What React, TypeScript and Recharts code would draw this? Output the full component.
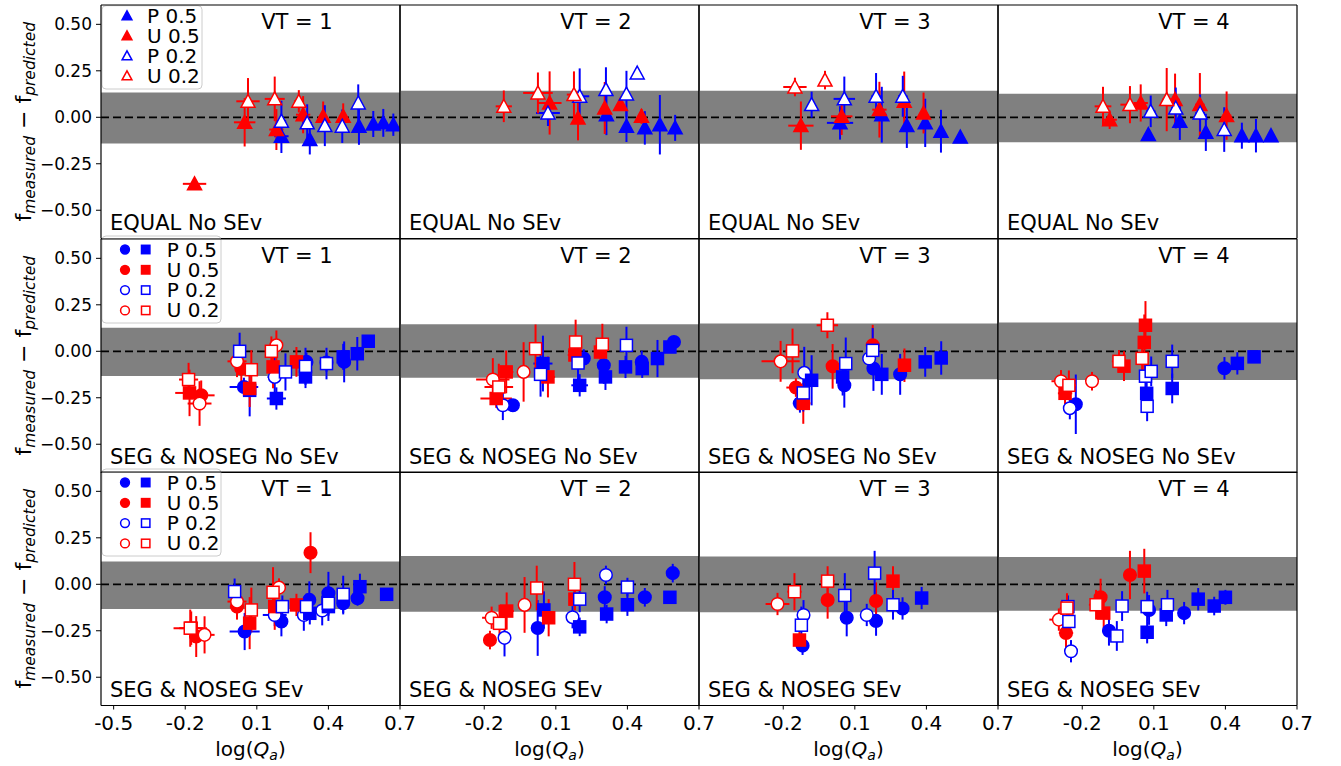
import React from "react";
import {
  ScatterChart,
  Scatter,
  XAxis,
  YAxis,
  ErrorBar,
  ReferenceArea,
  ReferenceLine,
} from "recharts";

// [series code, log(Qa), f_measured - f_predicted, x error, y error]
// series code: P5 / U5 / P2 / U2 followed by marker shape (t = triangle, c = circle, s = square)
type Pt = [string, number, number, number, number];

const EQUAL_VT1: Pt[] = [
  ["U5t", -0.161, -0.358, 0.049, 0.01],
  ["U5t", 0.049, -0.027, 0.045, 0.13],
  ["U5t", 0.182, -0.066, 0.03, 0.11],
  ["U5t", 0.294, 0.014, 0.03, 0.1],
  ["U5t", 0.378, 0.005, 0.01, 0.08],
  ["U5t", 0.462, 0.005, 0.01, 0.07],
  ["U2t", 0.063, 0.086, 0.049, 0.125],
  ["U2t", 0.175, 0.099, 0.042, 0.12],
  ["U2t", 0.276, 0.086, 0.02, 0.06],
  ["P5t", 0.203, -0.102, 0.03, 0.09],
  ["P5t", 0.322, -0.12, 0.01, 0.08],
  ["P5t", 0.528, -0.048, 0.01, 0.1],
  ["P5t", 0.588, -0.036, 0.01, 0.07],
  ["P5t", 0.63, -0.03, 0.01, 0.075],
  ["P5t", 0.672, -0.04, 0.01, 0.06],
  ["P2t", 0.203, -0.021, 0.02, 0.11],
  ["P2t", 0.311, -0.03, 0.02, 0.1],
  ["P2t", 0.385, -0.045, 0.01, 0.11],
  ["P2t", 0.458, -0.048, 0.01, 0.09],
  ["P2t", 0.525, 0.077, 0.01, 0.1],
];

const EQUAL_VT2: Pt[] = [
  ["U2t", -0.118, 0.059, 0.034, 0.085],
  ["U2t", 0.025, 0.131, 0.062, 0.11],
  ["U5t", 0.074, 0.077, 0.05, 0.17],
  ["P2t", 0.067, 0.023, 0.05, 0.07],
  ["U2t", 0.176, 0.122, 0.03, 0.125],
  ["P2t", 0.2, 0.113, 0.04, 0.15],
  ["U5t", 0.193, -0.004, 0.02, 0.12],
  ["P5t", 0.312, 0.014, 0.01, 0.11],
  ["U5t", 0.305, 0.05, 0.01, 0.14],
  ["P2t", 0.31, 0.149, 0.01, 0.12],
  ["U5t", 0.371, 0.068, 0.01, 0.03],
  ["P2t", 0.396, 0.125, 0.01, 0.125],
  ["P5t", 0.396, -0.048, 0.01, 0.085],
  ["P2t", 0.441, 0.238, 0.01, 0.01],
  ["U5t", 0.459, 0.005, 0.01, 0.04],
  ["P5t", 0.473, -0.057, 0.01, 0.09],
  ["P5t", 0.536, -0.04, 0.01, 0.16],
  ["P5t", 0.6, -0.057, 0.01, 0.07],
];

const EQUAL_VT3: Pt[] = [
  ["U2t", -0.151, 0.163, 0.049, 0.05],
  ["U5t", -0.126, -0.045, 0.053, 0.13],
  ["P2t", -0.081, 0.068, 0.01, 0.07],
  ["U2t", -0.025, 0.2, 0.01, 0.05],
  ["P2t", 0.056, 0.099, 0.045, 0.12],
  ["U5t", 0.045, 0.005, 0.045, 0.1],
  ["P5t", 0.038, -0.03, 0.055, 0.09],
  ["P2t", 0.189, 0.113, 0.02, 0.125],
  ["U5t", 0.203, 0.041, 0.03, 0.15],
  ["P5t", 0.213, 0.014, 0.02, 0.15],
  ["P2t", 0.301, 0.113, 0.02, 0.11],
  ["U5t", 0.307, 0.086, 0.02, 0.16],
  ["P5t", 0.318, -0.045, 0.01, 0.12],
  ["U5t", 0.388, 0.023, 0.01, 0.11],
  ["P5t", 0.395, -0.03, 0.01, 0.13],
  ["P5t", 0.461, -0.075, 0.01, 0.115],
  ["P5t", 0.542, -0.106, 0.01, 0.01],
];

const EQUAL_VT4: Pt[] = [
  ["U2t", -0.113, 0.059, 0.035, 0.105],
  ["U5t", -0.085, -0.013, 0.03, 0.05],
  ["U2t", 0.0, 0.068, 0.04, 0.1],
  ["U5t", 0.045, 0.077, 0.03, 0.1],
  ["P2t", 0.087, 0.032, 0.02, 0.085],
  ["P5t", 0.077, -0.093, 0.01, 0.01],
  ["U2t", 0.154, 0.095, 0.02, 0.17],
  ["U5t", 0.189, 0.095, 0.02, 0.14],
  ["P2t", 0.192, 0.05, 0.02, 0.11],
  ["P5t", 0.209, -0.022, 0.01, 0.1],
  ["U5t", 0.293, 0.068, 0.02, 0.17],
  ["P2t", 0.294, 0.023, 0.02, 0.1],
  ["P5t", 0.318, -0.081, 0.01, 0.1],
  ["P2t", 0.395, -0.066, 0.01, 0.12],
  ["U5t", 0.405, 0.009, 0.02, 0.13],
  ["P5t", 0.469, -0.099, 0.01, 0.07],
  ["P5t", 0.528, -0.099, 0.01, 0.09],
  ["P5t", 0.591, -0.099, 0.01, 0.01],
];

const NOSEV_VT1: Pt[] = [
  ["U5s", -0.182, -0.224, 0.06, 0.125],
  ["U2s", -0.186, -0.152, 0.04, 0.09],
  ["U5c", -0.133, -0.237, 0.056, 0.08],
  ["U2c", -0.14, -0.281, 0.05, 0.12],
  ["U2c", 0.017, -0.054, 0.04, 0.085],
  ["U5c", 0.035, -0.093, 0.02, 0.08],
  ["P2s", 0.028, 0.0, 0.02, 0.1],
  ["P5c", 0.046, -0.192, 0.06, 0.05],
  ["P5s", 0.07, -0.21, 0.02, 0.14],
  ["U2s", 0.077, -0.099, 0.02, 0.105],
  ["U5s", 0.07, -0.2, 0.02, 0.1],
  ["U2s", 0.161, 0.0, 0.02, 0.08],
  ["U2c", 0.182, 0.032, 0.02, 0.08],
  ["U5s", 0.168, -0.084, 0.02, 0.115],
  ["P2c", 0.175, -0.138, 0.03, 0.11],
  ["P5s", 0.182, -0.254, 0.04, 0.06],
  ["P2s", 0.22, -0.111, 0.02, 0.1],
  ["U5s", 0.266, -0.057, 0.02, 0.08],
  ["P2s", 0.304, -0.081, 0.02, 0.1],
  ["P5s", 0.304, -0.138, 0.01, 0.06],
  ["P5c", 0.308, -0.057, 0.01, 0.05],
  ["P2s", 0.392, -0.066, 0.02, 0.085],
  ["P5c", 0.392, -0.06, 0.01, 0.05],
  ["P5c", 0.466, -0.057, 0.01, 0.11],
  ["P5s", 0.462, -0.03, 0.01, 0.07],
  ["P5s", 0.521, -0.013, 0.01, 0.09],
  ["P5s", 0.567, 0.054, 0.01, 0.02],
];

const NOSEV_VT2: Pt[] = [
  ["U2c", -0.164, -0.152, 0.07, 0.115],
  ["U5s", -0.15, -0.254, 0.066, 0.05],
  ["U2s", -0.139, -0.192, 0.06, 0.125],
  ["P2c", -0.122, -0.29, 0.02, 0.08],
  ["P5c", -0.08, -0.29, 0.02, 0.03],
  ["U5s", -0.108, -0.111, 0.03, 0.115],
  ["U2c", -0.035, -0.111, 0.02, 0.16],
  ["U2s", 0.015, 0.014, 0.02, 0.13],
  ["P5s", 0.046, -0.066, 0.04, 0.15],
  ["P2s", 0.036, -0.124, 0.02, 0.12],
  ["U5s", 0.067, -0.138, 0.03, 0.11],
  ["U2s", 0.183, 0.05, 0.02, 0.12],
  ["U5s", 0.18, -0.02, 0.03, 0.06],
  ["P5c", 0.217, -0.039, 0.01, 0.05],
  ["P2s", 0.193, -0.063, 0.02, 0.125],
  ["P5s", 0.2, -0.183, 0.035, 0.06],
  ["U2s", 0.295, 0.038, 0.02, 0.11],
  ["U5s", 0.287, -0.004, 0.02, 0.06],
  ["P5c", 0.301, -0.075, 0.01, 0.1],
  ["P5s", 0.308, -0.138, 0.01, 0.07],
  ["P2s", 0.396, 0.032, 0.01, 0.1],
  ["P5s", 0.392, -0.084, 0.01, 0.06],
  ["P5c", 0.46, -0.057, 0.01, 0.06],
  ["P5s", 0.462, -0.093, 0.01, 0.05],
  ["P5s", 0.526, -0.039, 0.01, 0.1],
  ["P5s", 0.578, 0.023, 0.01, 0.03],
  ["P5c", 0.595, 0.05, 0.01, 0.02],
];

const NOSEV_VT3: Pt[] = [
  ["U2c", -0.211, -0.054, 0.08, 0.11],
  ["U2s", -0.161, 0.002, 0.03, 0.12],
  ["U5c", -0.147, -0.195, 0.04, 0.05],
  ["P2c", -0.112, -0.116, 0.02, 0.14],
  ["P5s", -0.081, -0.156, 0.02, 0.135],
  ["P5c", -0.13, -0.28, 0.03, 0.05],
  ["U5s", -0.116, -0.28, 0.03, 0.11],
  ["P2s", -0.116, -0.224, 0.02, 0.1],
  ["U2s", -0.015, 0.14, 0.045, 0.07],
  ["U5c", 0.007, -0.081, 0.02, 0.12],
  ["P2s", 0.062, -0.066, 0.02, 0.14],
  ["P5c", 0.056, -0.183, 0.02, 0.12],
  ["P5s", 0.049, -0.138, 0.02, 0.1],
  ["P2c", 0.16, -0.039, 0.01, 0.05],
  ["U5c", 0.175, 0.032, 0.02, 0.11],
  ["P2s", 0.175, 0.005, 0.02, 0.12],
  ["P5c", 0.178, -0.093, 0.02, 0.12],
  ["P5s", 0.213, -0.124, 0.01, 0.11],
  ["P5c", 0.29, -0.124, 0.01, 0.11],
  ["U5s", 0.308, -0.075, 0.02, 0.09],
  ["P5s", 0.395, -0.057, 0.01, 0.08],
  ["P5s", 0.462, -0.036, 0.01, 0.09],
];

const NOSEV_VT4: Pt[] = [
  ["U2c", -0.289, -0.161, 0.04, 0.06],
  ["U2s", -0.256, -0.183, 0.03, 0.08],
  ["U5s", -0.272, -0.226, 0.03, 0.06],
  ["P2c", -0.252, -0.306, 0.02, 0.06],
  ["P5c", -0.227, -0.285, 0.02, 0.16],
  ["U2c", -0.159, -0.161, 0.02, 0.05],
  ["U2s", -0.046, -0.054, 0.03, 0.06],
  ["U5s", -0.025, -0.08, 0.02, 0.08],
  ["U2s", 0.051, -0.038, 0.02, 0.1],
  ["U5s", 0.06, 0.048, 0.01, 0.15],
  ["U5s", 0.065, 0.14, 0.01, 0.13],
  ["P2s", 0.065, -0.134, 0.01, 0.08],
  ["P2s", 0.072, -0.296, 0.01, 0.08],
  ["P5s", 0.07, -0.226, 0.01, 0.1],
  ["P2s", 0.089, -0.108, 0.02, 0.08],
  ["P2s", 0.177, -0.054, 0.01, 0.09],
  ["P5s", 0.177, -0.2, 0.01, 0.08],
  ["P5c", 0.396, -0.091, 0.01, 0.06],
  ["P5s", 0.45, -0.065, 0.01, 0.06],
  ["P5s", 0.52, -0.03, 0.01, 0.03],
];

const SEV_VT1: Pt[] = [
  ["U2s", -0.179, -0.236, 0.07, 0.1],
  ["U5s", -0.175, -0.236, 0.05, 0.09],
  ["U5c", -0.154, -0.281, 0.03, 0.11],
  ["U2c", -0.119, -0.272, 0.042, 0.1],
  ["U5c", 0.017, -0.12, 0.03, 0.07],
  ["U2c", 0.017, -0.093, 0.04, 0.06],
  ["P2s", 0.007, -0.039, 0.02, 0.07],
  ["P5c", 0.049, -0.254, 0.063, 0.1],
  ["U5s", 0.07, -0.209, 0.02, 0.14],
  ["U2s", 0.077, -0.138, 0.02, 0.12],
  ["U2s", 0.168, -0.043, 0.02, 0.135],
  ["U2c", 0.193, -0.018, 0.02, 0.05],
  ["U5s", 0.175, -0.12, 0.02, 0.125],
  ["P2c", 0.175, -0.165, 0.05, 0.06],
  ["P5c", 0.203, -0.2, 0.02, 0.08],
  ["P2s", 0.207, -0.12, 0.02, 0.06],
  ["U5s", 0.266, -0.111, 0.02, 0.06],
  ["U5c", 0.325, 0.17, 0.01, 0.11],
  ["P5c", 0.32, -0.084, 0.01, 0.1],
  ["P2c", 0.297, -0.165, 0.02, 0.085],
  ["P5s", 0.322, -0.156, 0.01, 0.06],
  ["P2s", 0.308, -0.12, 0.02, 0.07],
  ["P5c", 0.4, -0.048, 0.01, 0.115],
  ["P2c", 0.374, -0.141, 0.01, 0.08],
  ["P5s", 0.4, -0.12, 0.01, 0.05],
  ["P2s", 0.4, -0.102, 0.01, 0.095],
  ["P5c", 0.462, -0.102, 0.01, 0.06],
  ["P2s", 0.462, -0.054, 0.01, 0.1],
  ["P5c", 0.522, -0.075, 0.01, 0.04],
  ["P5s", 0.532, -0.013, 0.01, 0.07],
  ["P5s", 0.644, -0.054, 0.01, 0.02],
];

const SEV_VT2: Pt[] = [
  ["U5c", -0.176, -0.3, 0.02, 0.05],
  ["U2c", -0.169, -0.18, 0.04, 0.06],
  ["U2s", -0.136, -0.21, 0.03, 0.1],
  ["P2c", -0.115, -0.288, 0.02, 0.1],
  ["U5s", -0.106, -0.144, 0.03, 0.1],
  ["U2c", -0.031, -0.111, 0.02, 0.15],
  ["U2s", 0.02, -0.02, 0.02, 0.12],
  ["P5c", 0.024, -0.235, 0.02, 0.15],
  ["P5s", 0.05, -0.138, 0.02, 0.1],
  ["U5s", 0.07, -0.18, 0.02, 0.1],
  ["P2c", 0.17, -0.177, 0.02, 0.06],
  ["U2s", 0.178, 0.0, 0.02, 0.12],
  ["U5s", 0.18, -0.08, 0.02, 0.06],
  ["P5s", 0.2, -0.229, 0.02, 0.05],
  ["P2s", 0.2, -0.08, 0.02, 0.07],
  ["P5c", 0.305, -0.07, 0.01, 0.06],
  ["P2c", 0.31, 0.05, 0.01, 0.05],
  ["P5s", 0.313, -0.16, 0.01, 0.05],
  ["P2s", 0.4, -0.015, 0.01, 0.05],
  ["P5s", 0.4, -0.11, 0.01, 0.06],
  ["P5c", 0.473, -0.07, 0.01, 0.05],
  ["P5c", 0.59, 0.06, 0.01, 0.05],
  ["P5s", 0.578, -0.07, 0.01, 0.03],
];

const SEV_VT3: Pt[] = [
  ["U2c", -0.224, -0.106, 0.05, 0.06],
  ["U2s", -0.153, -0.04, 0.03, 0.1],
  ["U5s", -0.132, -0.3, 0.02, 0.05],
  ["P5c", -0.119, -0.33, 0.02, 0.05],
  ["P2s", -0.124, -0.22, 0.02, 0.1],
  ["P2c", -0.115, -0.165, 0.02, 0.08],
  ["U2s", -0.014, 0.017, 0.03, 0.08],
  ["U5c", -0.014, -0.085, 0.02, 0.1],
  ["P5c", 0.066, -0.18, 0.02, 0.1],
  ["P2s", 0.058, -0.06, 0.02, 0.12],
  ["P2c", 0.15, -0.165, 0.02, 0.06],
  ["P2s", 0.183, 0.06, 0.01, 0.12],
  ["U5c", 0.189, -0.09, 0.02, 0.1],
  ["P5c", 0.189, -0.197, 0.01, 0.08],
  ["U5s", 0.26, 0.017, 0.01, 0.08],
  ["P2s", 0.26, -0.11, 0.01, 0.08],
  ["P5c", 0.3, -0.13, 0.01, 0.06],
  ["P5s", 0.38, -0.074, 0.01, 0.06],
];

const SEV_VT4: Pt[] = [
  ["U2c", -0.298, -0.19, 0.04, 0.06],
  ["U2s", -0.264, -0.128, 0.03, 0.08],
  ["U5c", -0.268, -0.262, 0.03, 0.08],
  ["P2c", -0.247, -0.36, 0.02, 0.06],
  ["P2s", -0.256, -0.2, 0.02, 0.08],
  ["P2s", -0.26, -0.12, 0.02, 0.06],
  ["U2s", -0.142, -0.11, 0.03, 0.08],
  ["U5c", -0.123, -0.07, 0.02, 0.1],
  ["U5s", -0.11, -0.155, 0.02, 0.08],
  ["P5c", -0.088, -0.25, 0.02, 0.08],
  ["P2s", -0.055, -0.278, 0.02, 0.08],
  ["P2s", -0.033, -0.117, 0.02, 0.08],
  ["U5c", 0.0, 0.05, 0.02, 0.13],
  ["U5s", 0.06, 0.071, 0.01, 0.12],
  ["P2s", 0.072, -0.12, 0.01, 0.08],
  ["P5c", 0.08, -0.138, 0.01, 0.08],
  ["P5s", 0.072, -0.258, 0.01, 0.06],
  ["P2s", 0.157, -0.11, 0.01, 0.08],
  ["P5s", 0.152, -0.165, 0.01, 0.06],
  ["P5c", 0.227, -0.155, 0.01, 0.06],
  ["P5s", 0.286, -0.08, 0.01, 0.06],
  ["P5s", 0.353, -0.117, 0.01, 0.05],
  ["P5s", 0.4, -0.07, 0.01, 0.04],
];

// grey band limits [low, high] per VT column
const EQUAL_BANDS = [[-0.141, 0.134], [-0.143, 0.143], [-0.143, 0.143], [-0.134, 0.126]];
const NOSEV_BANDS = [[-0.133, 0.127], [-0.143, 0.145], [-0.15, 0.149], [-0.155, 0.155]];
const SEV_BANDS = [[-0.133, 0.122], [-0.148, 0.152], [-0.15, 0.15], [-0.143, 0.147]];

const ROW_TITLES = ["EQUAL No SEv", "SEG & NOSEG No SEv", "SEG & NOSEG SEv"];
const VT_LABELS = ["VT = 1", "VT = 2", "VT = 3", "VT = 4"];
const GROUPS = [
  { key: "P5", label: "P 0.5", color: "#0000ff", open: false },
  { key: "U5", label: "U 0.5", color: "#ff0000", open: false },
  { key: "P2", label: "P 0.2", color: "#0000ff", open: true },
  { key: "U2", label: "U 0.2", color: "#ff0000", open: true },
];
const X_TICKS_FIRST = [-0.5, -0.2, 0.1, 0.4, 0.7];
const X_TICKS = [-0.2, 0.1, 0.4, 0.7];
const Y_TICKS = [-0.5, -0.25, 0, 0.25, 0.5];

const ROWS = [
  { data: [EQUAL_VT1, EQUAL_VT2, EQUAL_VT3, EQUAL_VT4], bands: EQUAL_BANDS, shapes: ["t"] },
  { data: [NOSEV_VT1, NOSEV_VT2, NOSEV_VT3, NOSEV_VT4], bands: NOSEV_BANDS, shapes: ["c", "s"] },
  { data: [SEV_VT1, SEV_VT2, SEV_VT3, SEV_VT4], bands: SEV_BANDS, shapes: ["c", "s"] },
];

const FONT = "DejaVu Sans";
const X_DOMAIN = [-0.553, 0.7];
const Y_DOMAIN = [-0.652, 0.604];
const PW = 299;
const PH = 233.5;
const X0 = [101, 400, 699, 998];
const Y0 = [5, 238.5, 472];

function marker(shape: string, cx: number, cy: number, color: string, open: boolean, k = 1) {
  const fill = open ? "#ffffff" : color;
  if (shape === "t") {
    const h = 7 * k;
    return (
      <polygon
        points={`${cx},${cy - h} ${cx + h},${cy + h * 0.85} ${cx - h},${cy + h * 0.85}`}
        fill={fill}
        stroke={color}
        strokeWidth={1.5}
      />
    );
  }
  if (shape === "s") {
    const h = 6 * k;
    return <rect x={cx - h} y={cy - h} width={2 * h} height={2 * h} fill={fill} stroke={color} strokeWidth={1.5} />;
  }
  return <circle cx={cx} cy={cy} r={6.3 * k} fill={fill} stroke={color} strokeWidth={1.5} />;
}

function splitSeries(rows: Pt[], shapes: string[]) {
  const out: any[] = [];
  for (const shape of shapes) {
    for (const g of GROUPS) {
      const code = g.key + shape;
      const pts = rows
        .filter((r) => r[0] === code)
        .map((r) => ({ x: r[1], y: r[2], ex: r[3], ey: r[4] }));
      if (pts.length) out.push({ ...g, code, shape, pts });
    }
  }
  return out;
}

function LegendBox({ x, shapes }: { x: number; shapes: string[] }) {
  const tri = shapes.length === 1;
  const box = tri ? { y: 6.7, w: 100, h: 83.3 } : { y: 3, w: 119, h: 87 };
  const step = tri ? 20 : 20.3;
  const textX = tri ? 46 : 65.7;
  return (
    <g>
      <rect x={x + 1} y={box.y} width={box.w} height={box.h} rx={4} fill="#ffffff" fillOpacity={0.8} stroke="#cccccc" />
      {GROUPS.map((g, i) => {
        const cy = box.y + (tri ? 10 : 13.5) + i * step;
        return (
          <g key={g.key}>
            {shapes.map((s, j) => (
              <g key={s}>{marker(s, x + (tri ? 26 : 24 + j * 20.7), cy, g.color, g.open, 0.7)}</g>
            ))}
            <text x={x + textX} y={cy + 7} fontSize={20} fontFamily={FONT} fill="#000">
              {g.label}
            </text>
          </g>
        );
      })}
    </g>
  );
}

function Panel({ row, col }: { row: number; col: number }) {
  const cfg = ROWS[row];
  const series = splitSeries(cfg.data[col], cfg.shapes);
  const [b0, b1] = cfg.bands[col];
  const first = col === 0;
  const lastRow = row === 2;
  const ml = first ? 101 : 6;
  const mb = lastRow ? 62 : 6;
  const mt = 6;
  const mr = lastRow ? 22 : 6;

  return (
    <div style={{ position: "absolute", left: X0[col] - ml, top: Y0[row] - mt }}>
      <ScatterChart
        width={ml + PW + mr}
        height={mt + PH + mb}
        margin={{ top: mt, right: mr, bottom: 0, left: 0 }}
      >
        <XAxis
          xAxisId="b"
          type="number"
          dataKey="x"
          domain={X_DOMAIN}
          allowDataOverflow
          ticks={first ? X_TICKS_FIRST : X_TICKS}
          tickFormatter={(v: number) => v.toFixed(1)}
          height={mb}
          tickSize={4}
          tickMargin={6}
          tick={lastRow ? { fontSize: 20, fill: "#000", fontFamily: FONT } : false}
          axisLine={{ stroke: "#000", strokeWidth: 1.2 }}
          tickLine={{ stroke: "#000" }}
        />
        <XAxis
          xAxisId="t"
          orientation="top"
          type="number"
          domain={X_DOMAIN}
          allowDataOverflow
          ticks={first ? X_TICKS_FIRST : X_TICKS}
          mirror
          tickSize={4}
          tick={false}
          axisLine={{ stroke: "#000", strokeWidth: 1.2 }}
          tickLine={{ stroke: "#000" }}
        />
        <YAxis
          yAxisId="l"
          type="number"
          dataKey="y"
          domain={Y_DOMAIN}
          allowDataOverflow
          ticks={Y_TICKS}
          tickFormatter={(v: number) => v.toFixed(2).replace("-", "\u2212")}
          width={ml}
          tickSize={5}
          tickMargin={4}
          tick={first ? { fontSize: 17, fill: "#000", fontFamily: FONT } : false}
          axisLine={{ stroke: "#000", strokeWidth: 1.2 }}
          tickLine={{ stroke: "#000" }}
        />
        <YAxis
          yAxisId="r"
          orientation="right"
          type="number"
          domain={Y_DOMAIN}
          allowDataOverflow
          ticks={Y_TICKS}
          mirror
          tickSize={4}
          tick={false}
          axisLine={{ stroke: "#000", strokeWidth: 1.2 }}
          tickLine={{ stroke: "#000" }}
        />
        <ReferenceArea xAxisId="b" yAxisId="l" y1={b0} y2={b1} fill="#808080" fillOpacity={1} stroke="none" />
        <ReferenceLine xAxisId="b" yAxisId="l" y={0} stroke="#000" strokeWidth={1.8} strokeDasharray="8 4" />
        {series.map((s) => (
          <Scatter
            key={s.code}
            xAxisId="b"
            yAxisId="l"
            data={s.pts}
            isAnimationActive={false}
            shape={(p: any) => marker(s.shape, p.cx, p.cy, s.color, s.open)}
          >
            <ErrorBar dataKey="ey" direction="y" width={0} stroke={s.color} strokeWidth={2} isAnimationActive={false} />
            <ErrorBar dataKey="ex" direction="x" width={0} stroke={s.color} strokeWidth={2} isAnimationActive={false} />
          </Scatter>
        ))}
        <text x={ml + 196} y={mt + 24} textAnchor="middle" fontSize={21} fontFamily={FONT} fill="#000">
          {VT_LABELS[col]}
        </text>
        <text x={ml + 9} y={mt + 224.5} fontSize={21} fontFamily={FONT} fill="#000">
          {ROW_TITLES[row]}
        </text>
        {first && <LegendBox x={ml} shapes={cfg.shapes} />}
        {first && (
          <text
            transform={`translate(31, ${mt + PH / 2}) rotate(-90)`}
            textAnchor="middle"
            fontSize={22}
            fontFamily={FONT}
            fill="#000"
          >
            f<tspan fontSize={15.5} fontStyle="italic" dy={4}>measured</tspan>
            <tspan dy={-4}> − f</tspan>
            <tspan fontSize={15.5} fontStyle="italic" dy={4}>predicted</tspan>
          </text>
        )}
        {lastRow && (
          <text x={ml + PW / 2} y={mt + PH + 50.7} textAnchor="middle" fontSize={20} fontFamily={FONT} fill="#000">
            log(<tspan fontStyle="italic">Q</tspan>
            <tspan fontSize={14} fontStyle="italic" dy={4}>a</tspan>
            <tspan dy={-4}>)</tspan>
          </text>
        )}
      </ScatterChart>
    </div>
  );
}

export default function App() {
  return (
    <div style={{ position: "absolute", left: 0, top: 0, width: 1341, height: 766, background: "#ffffff" }}>
      {[0, 1, 2].map((r) => [0, 1, 2, 3].map((c) => <Panel key={`${r}-${c}`} row={r} col={c} />))}
    </div>
  );
}
